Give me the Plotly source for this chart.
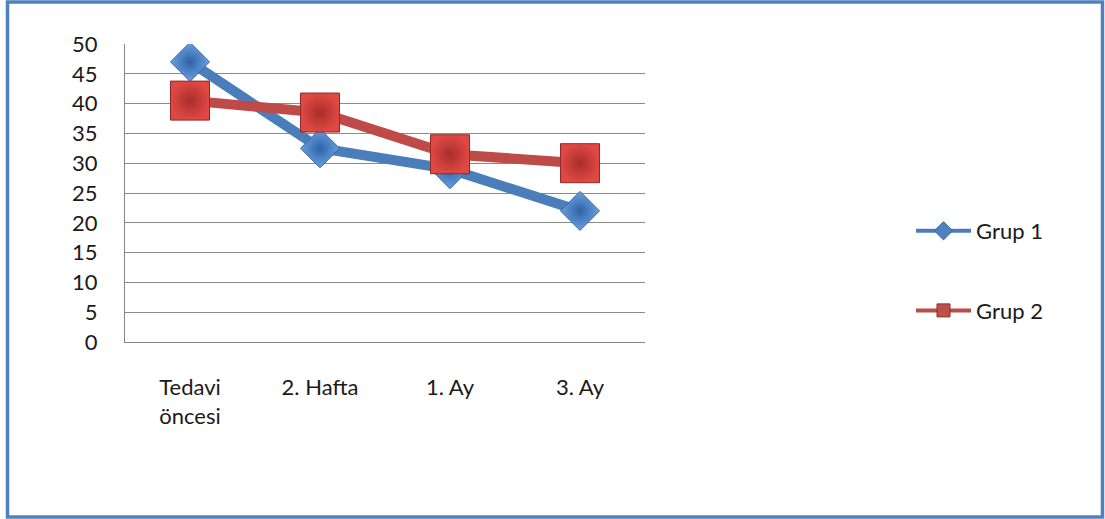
import plotly.graph_objects as go

categories = ["Tedavi<br>öncesi", "2. Hafta", "1. Ay", "3. Ay"]
grup1 = [47, 32.5, 29, 22]
grup2 = [40.5, 38.5, 31.5, 30]
yticks = list(range(0, 51, 5))

W, H = 1105, 519
L, R, T, B = 125, 645, 44, 342

def px_x(x):
    return (x - L) / (R - L)

def px_y(y):
    return (B - y) / (B - T)

fig = go.Figure()
fig.add_trace(go.Scatter(
    x=categories, y=grup1, mode="lines+markers", name="Grup 1", showlegend=False,
    line=dict(color="#4A7EBB", width=10),
    marker=dict(symbol="diamond", size=30, color="#6A9FE0",
                gradient=dict(type="radial", color="#2E64A6"),
                line=dict(color="#3465A0", width=1)),
))
fig.add_trace(go.Scatter(
    x=categories, y=grup2, mode="lines+markers", name="Grup 2", showlegend=False,
    line=dict(color="#BE4B48", width=10),
    marker=dict(symbol="square", size=39, color="#E04844",
                gradient=dict(type="radial", color="#A82E2B"),
                line=dict(color="#8C2A27", width=1)),
))
# legend entries
fig.add_trace(go.Scatter(
    x=[None], y=[None], mode="lines+markers", name="Grup 1", legendgroup="g1",
    line=dict(color="#4A7EBB", width=4),
    marker=dict(symbol="diamond", size=14, color="#4F81BD", line=dict(color="#3465A0", width=1)),
))
fig.add_trace(go.Scatter(
    x=[None], y=[None], mode="lines+markers", name="Grup 2", legendgroup="g2",
    line=dict(color="#BE4B48", width=4),
    marker=dict(symbol="square", size=13, color="#C0504D", line=dict(color="#8C2A27", width=1)),
))

font = dict(family="Lato, Noto Sans, sans-serif", size=22, color="#1a1a1a")

fig.update_layout(
    width=W, height=H,
    margin=dict(l=L, r=W - R, t=T, b=H - B, pad=0),
    paper_bgcolor="white", plot_bgcolor="white",
    font=font,
    xaxis=dict(
        type="category", range=[-0.5, 3.5],
        showgrid=False, showline=True, linecolor="#868686", linewidth=1,
        ticks="", ticklabelstandoff=26, tickfont=font,
        fixedrange=True,
    ),
    yaxis=dict(
        range=[0, 50], tickvals=yticks, showgrid=True, gridcolor="#8A8A8A", gridwidth=1,
        showline=True, linecolor="#868686", linewidth=1, zeroline=False,
        ticks="", ticklabelstandoff=22, tickfont=font,
        fixedrange=True,
    ),
    legend=dict(
        x=px_x(911), y=px_y(210), xanchor="left", yanchor="top",
        traceorder="grouped", tracegroupgap=48, itemwidth=55,
        font=font, bgcolor="rgba(0,0,0,0)",
    ),
    showlegend=True,
    shapes=[dict(
        type="rect", xref="paper", yref="paper",
        x0=px_x(7.5), x1=px_x(1102.5), y0=px_y(517), y1=px_y(2),
        line=dict(color="#4F81BD", width=3.5), fillcolor="rgba(0,0,0,0)", layer="above",
    )],
)

fig.write_html("out.html")
